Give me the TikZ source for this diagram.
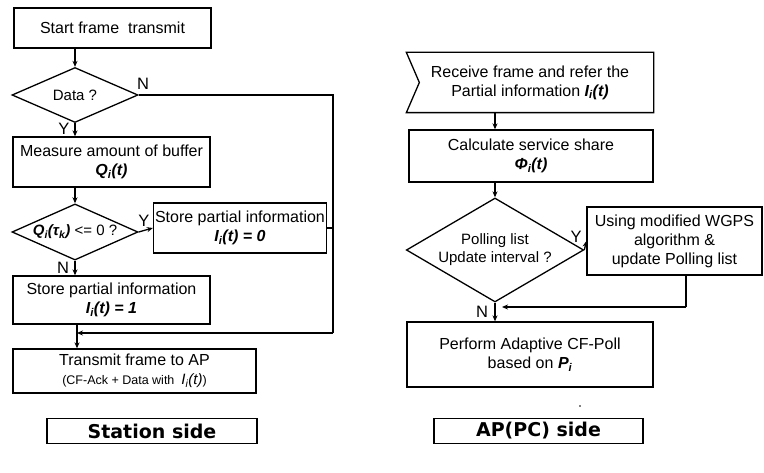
\documentclass[tikz,border=0pt]{standalone}
\usepackage{fontspec}
\setmainfont{Liberation Sans}
\newfontfamily\labfont{DejaVu Sans}
\usetikzlibrary{shapes.geometric,arrows.meta}
\newcommand\bi[1]{\textbf{\textit{#1}}}
\begin{document}
\begin{tikzpicture}[x=1pt,y=-1pt,
  box/.style={draw, line width=1.3pt, inner sep=0pt, align=center, font=\fontsize{16}{19}\selectfont},
  dia/.style={draw, diamond, line width=1.3pt, inner sep=0pt, aspect=2, align=center, font=\fontsize{15}{18}\selectfont},
  arr/.style={line width=1.3pt, -{Stealth[length=6pt,width=5pt]}},
  ln/.style={line width=1.3pt},
  lab/.style={font=\fontsize{16.5}{17}\selectfont, inner sep=0pt},
  side/.style={draw, line width=1.4pt, minimum height=25pt, inner sep=0pt, font=\labfont\bfseries\fontsize{19}{20}\selectfont}
]
\useasboundingbox (0,0) rectangle (764,473);

% ---------- Station side ----------
\node[box, minimum width=197pt, minimum height=40pt] (start) at (112.5,28) {Start frame\ \ transmit};
\node[dia, minimum width=126pt, minimum height=55pt] (d1) at (75,95) {Data ?};
\node[box, minimum width=197pt, minimum height=50pt] (meas) at (111.5,162) {Measure amount of buffer\\ \bi{Q\textsubscript{i}(t)}};
\node[dia, minimum width=126pt, minimum height=55pt] (d2) at (75,232) {\bi{Q\textsubscript{i}(τ\textsubscript{k})} <= 0 ?};
\node[box, minimum width=173pt, minimum height=50pt] (st0) at (240,228) {Store partial information\\ \bi{I\textsubscript{i}(t) = 0}};
\node[box, minimum width=197pt, minimum height=48pt] (st1) at (111.5,300) {Store partial information\\ \bi{I\textsubscript{i}(t) = 1}};
\node[box, minimum width=243pt, minimum height=44pt] (tx) at (134.5,371) {Transmit frame to AP\\ {\fontsize{12.5}{14}\selectfont (CF-Ack + Data with\ \ {\fontsize{15}{14}\selectfont\textit{I\textsubscript{i}(t)}})}};
\node[side, minimum width=210pt] (sta) at (152,431) {Station side};

\coordinate (r1) at (333,95);
\coordinate (r2) at (333,333);
\coordinate (j1) at (77,333);
\coordinate (r3) at (333,228);

\draw[arr] (d1.north |- start.south) -- (d1.north);
\draw[arr] (d1.south) -- (d1.south |- meas.north);
\draw[arr] (d2.north |- meas.south) -- (d2.north);
\draw[arr] (d2.east) -- (st0.west);
\draw[arr] (d2.south) -- (d2.south |- st1.north);
\draw[arr] (j1 |- st1.south) -- (j1 |- tx.north);
\draw[ln] (d1.east) -- (r1) -- (r2);
\draw[arr] (r2) -- (j1);
\draw[ln] (st0.east) -- (r3);

\node[lab] (n1) at (143,84) {N};
\node[lab] (y1) at (64,129) {Y};
\node[lab] (y2) at (144,221) {Y};
\node[lab] (n2) at (63,268) {N};

% ---------- AP side ----------
\node[box, draw=none, minimum width=246pt, minimum height=59pt] (rcv) at (530,82.5) {Receive frame and refer the\\ Partial information \bi{I\textsubscript{i}(t)}};
\draw[line width=1.3pt] (rcv.north west) -- (rcv.north east) -- (rcv.south east) -- (rcv.south west) -- ([xshift=13pt]rcv.west) -- cycle;
\node[box, minimum width=244pt, minimum height=52pt] (calc) at (531,156) {Calculate service share\\ \bi{Φ\textsubscript{i}(t)}};
\node[dia, minimum width=156pt, minimum height=104pt] (d3) at (495,250) {Polling list\\ Update interval ?};
\node[box, minimum width=175pt, minimum height=68pt] (wg) at (674.5,241) {Using modified WGPS\\ algorithm \&\\ update Polling list};
\node[box, minimum width=246pt, minimum height=65pt] (perf) at (530,354.5) {Perform Adaptive CF-Poll\\ based on \bi{P\textsubscript{i}}};
\node[side, minimum width=209pt] (ap) at (538.5,431) {AP(PC) side};

\coordinate (w1) at (686,307);
\coordinate (w2) at (502,307);

\draw[arr] (d3.north |- rcv.south) -- (d3.north |- calc.north);
\draw[arr] (d3.north |- calc.south) -- (d3.north);
\draw[arr] (d3.east) -- (wg.west);
\draw[arr] (d3.south) -- (d3.south |- perf.north);
\draw[ln] (w1 |- wg.south) -- (w1);
\draw[arr] (w1) -- (w2);

\node[lab] (y3) at (576,237) {Y};
\node[lab] (n3) at (482,312) {N};
\fill (580,406) circle (0.9pt);
\end{tikzpicture}
\end{document}
